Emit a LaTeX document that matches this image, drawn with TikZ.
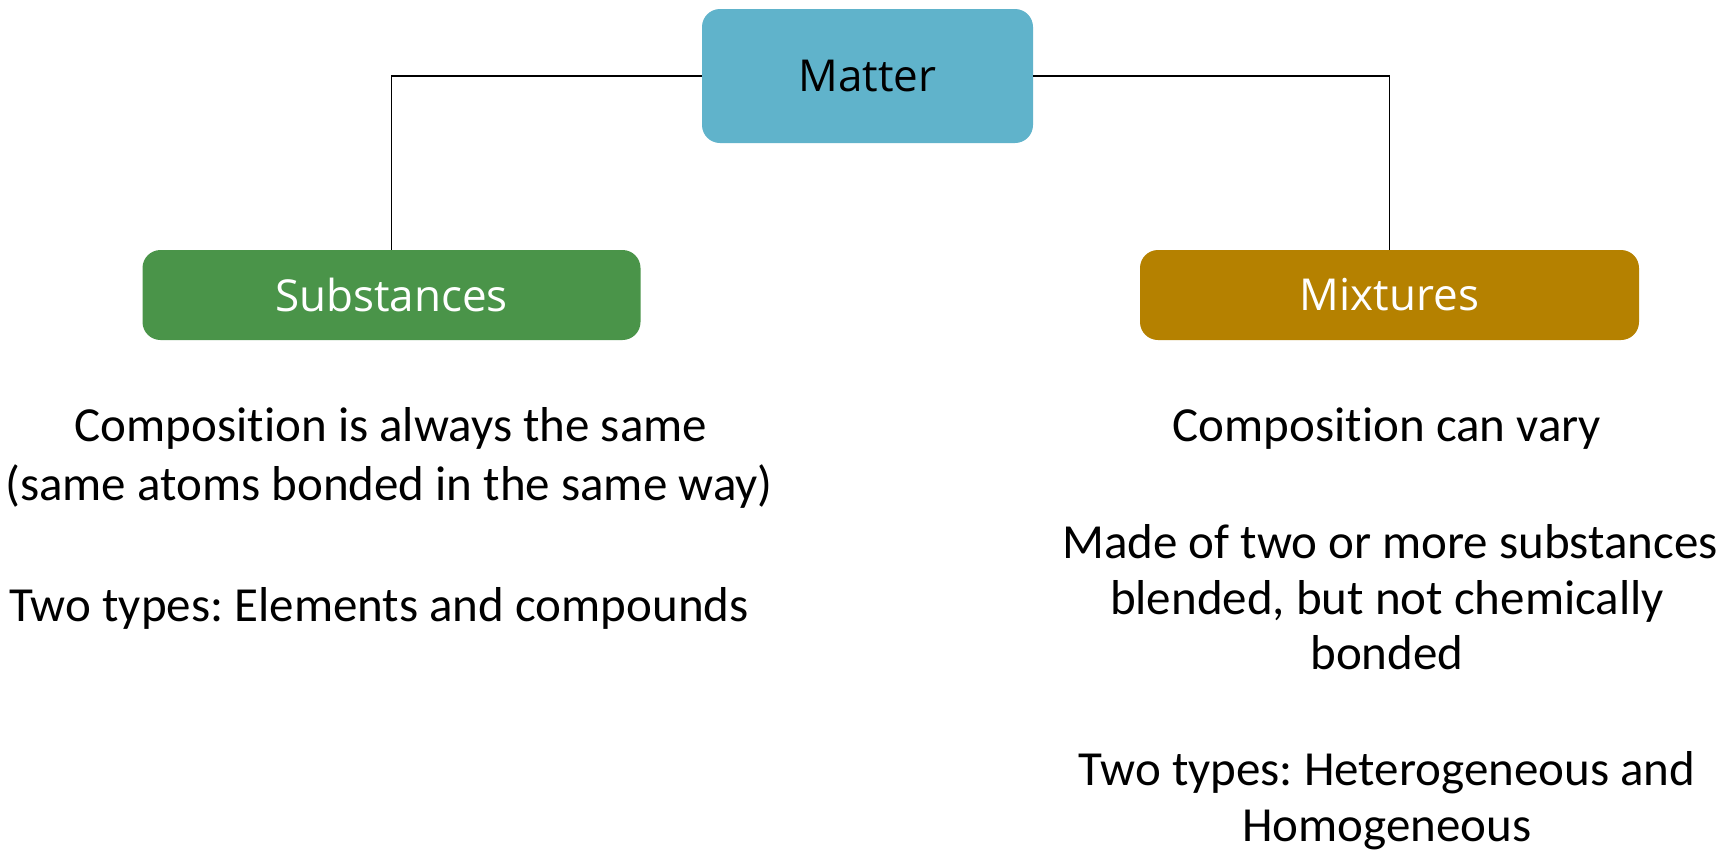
\documentclass[tikz,border=0pt]{standalone}
\usepackage{fontspec}
\setmainfont{Carlito}
\newfontfamily\boxfont{Open Sans}
\definecolor{matterc}{HTML}{60B3CB}
\definecolor{subsc}{HTML}{4A9449}
\definecolor{mixc}{HTML}{B58100}
\frenchspacing
\newcommand{\nl}{\kern0pt }
\begin{document}
\begin{tikzpicture}[x=1pt,y=-1pt,
  catbox/.style={rectangle,rounded corners=18pt,inner sep=0pt,
    font=\boxfont\fontsize{44}{52}\selectfont},
  bodytxt/.style={anchor=base,inner sep=0pt,font=\fontsize{49}{58}\selectfont},
  link/.style={draw=black,line width=1.8pt}]
\useasboundingbox[fill=white] (0,0) rectangle (1723,852);
\node[catbox,fill=matterc,text=black,minimum width=331pt,minimum height=134pt] (matter) at (867.5,76) {Matter};
\node[catbox,fill=subsc,text=white,minimum width=498pt,minimum height=90pt] (subs) at (391.5,295) {Substances};
\node[catbox,fill=mixc,text=white,minimum width=499pt,minimum height=90pt] (mix) at (1389.5,295) {Mixtures};
\draw[link] (matter.west) -| (subs.north);
\draw[link] (matter.east) -| (mix.north);
% left texts
\node[bodytxt] (l1) at (391,441) {Composit\nl ion is always the same};
\node[bodytxt] (l2) at (389,500) {(same atoms bonded in the same way)};
\node[bodytxt] (l3) at (379,621) {Two types: Elements and compounds};
% right texts
\node[bodytxt] (r1) at (1387,441) {Composit\nl ion can vary};
\node[bodytxt] (r2) at (1390,558) {Made of two or more substances};
\node[bodytxt] (r3) at (1387,614) {blended, but not chemically};
\node[bodytxt] (r4) at (1387,669) {bonded};
\node[bodytxt] (r5) at (1387,785) {Two types: Heterogeneous and};
\node[bodytxt] (r6) at (1387,841) {Homogeneous};
\end{tikzpicture}
\end{document}
